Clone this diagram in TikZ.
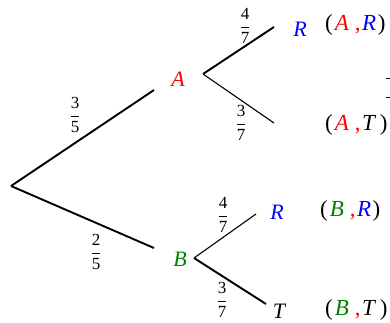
\documentclass[tikz,border=0pt]{standalone}
\usepackage{fontspec}
\setmainfont{Liberation Serif}
\usepackage{amsmath}
\definecolor{cA}{RGB}{255,0,0}
\definecolor{cB}{RGB}{0,128,0}
\definecolor{cR}{RGB}{0,0,255}
\newcommand\myfr[2]{$\dfrac{\mbox{#1}}{\mbox{#2}}$}
\newcommand\mypair[3]{(\hspace{2pt}#1\hspace{6pt}\textcolor{cA}{,}\hspace{1.5pt}#2\hspace{1.5pt}#3)}
\begin{document}
\begin{tikzpicture}[x=1pt,y=-1pt,
  thk/.style={line width=1.9pt},
  thn/.style={line width=1.1pt},
  ev/.style={font=\fontsize{22}{23}\selectfont\itshape, inner sep=0pt},
  pr/.style={font=\fontsize{23}{24}\selectfont, inner sep=0pt},
  fr/.style={font=\fontsize{17}{18}\selectfont, inner sep=0pt}]
\useasboundingbox (0,0) rectangle (390,322);
% coordinates
\coordinate (root) at (11,186);
\coordinate (aend) at (154,90);
\coordinate (bend) at (154,248);
\coordinate (av) at (203,74);
\coordinate (arend) at (274,27);
\coordinate (atend) at (274,123);
\coordinate (bv) at (194,258);
\coordinate (brend) at (256,214);
\coordinate (btend) at (266,304);
% branches
\draw[thk] (root) -- (aend);
\draw[thk] (root) -- (bend);
\draw[thk] (av) -- (arend);
\draw[thn] (av) -- (atend);
\draw[thn] (bv) -- (brend);
\draw[thk] (bv) -- (btend);
% events
\node[ev, text=cA] (A) at (178,79) {A};
\node[ev, text=cB] (B) at (180,259) {B};
\node[ev, text=cR] (R1) at (300,29) {R};
\node[ev, text=cR] (R2) at (277,212) {R};
\node[ev] (T2) at (279,311) {T};
% probabilities
\node[fr] (p35) at (75,115) {\myfr{3}{5}};
\node[fr] (p25) at (96,252) {\myfr{2}{5}};
\node[fr] (p47a) at (245,26) {\myfr{4}{7}};
\node[fr] (p37a) at (241,123) {\myfr{3}{7}};
\node[fr] (p47b) at (223,215) {\myfr{4}{7}};
\node[fr] (p37b) at (222,300) {\myfr{3}{7}};
% pairs
\node[pr, anchor=west] (AR) at (325,25) {\mypair{\textcolor{cA}{\textit{A}}}{\textcolor{cR}{\textit{R}}}{}};
\node[pr, anchor=west] (AT) at (325,125) {\mypair{\textcolor{cA}{\textit{A}}}{\textit{T}}{\hspace{2pt}}};
\node[pr, anchor=west] (BR) at (320,211) {\mypair{\textcolor{cB}{\textit{B}}}{\textcolor{cR}{\textit{R}}}{}};
\node[pr, anchor=west] (BT) at (325,310) {\mypair{\textcolor{cB}{\textit{B}}}{\textit{T}}{\hspace{2pt}}};
% edge marks
\coordinate (m1a) at (386,78);
\coordinate (m1b) at (390,78);
\coordinate (m2a) at (386,97);
\coordinate (m2b) at (390,97);
\draw[line width=0.8pt] (m1a) -- (m1b);
\draw[line width=0.8pt] (m2a) -- (m2b);
\end{tikzpicture}
\end{document}
